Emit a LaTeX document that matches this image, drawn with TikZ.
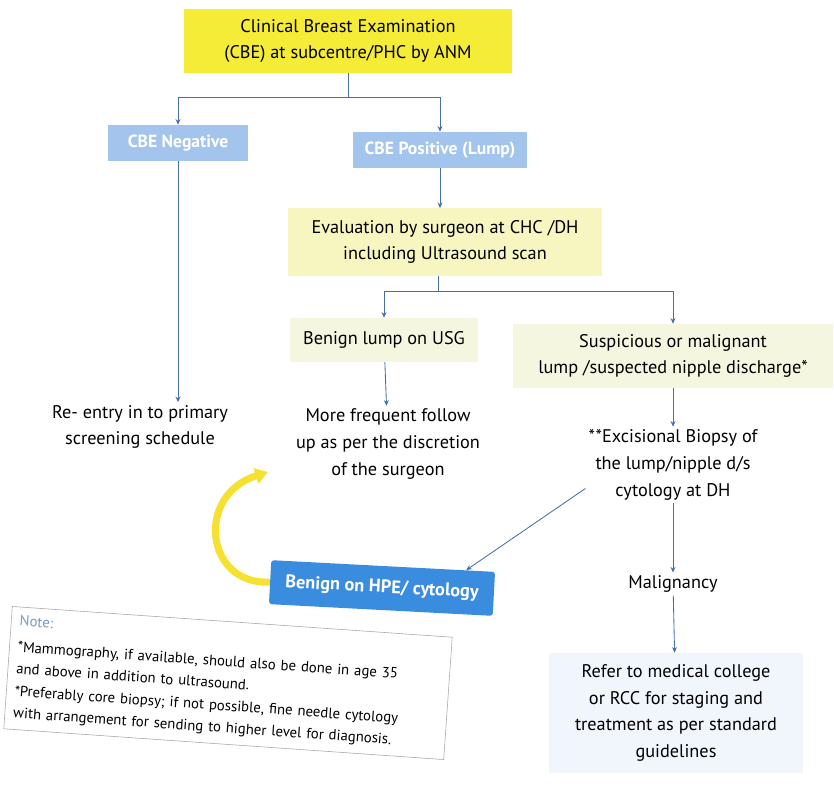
\documentclass[tikz,border=0pt]{standalone}
\usepackage{fontspec}
\setmainfont{PT Sans}
\usetikzlibrary{arrows.meta}

\definecolor{cbeyellow}{RGB}{245,236,55}
\definecolor{evalyellow}{RGB}{248,246,192}
\definecolor{paleyellow}{RGB}{245,246,224}
\definecolor{lightblue}{RGB}{163,196,236}
\definecolor{hpeblue}{RGB}{58,140,222}
\definecolor{lineblue}{RGB}{72,110,170}
\definecolor{referblue}{RGB}{241,245,252}
\definecolor{notegray}{RGB}{120,155,195}

\begin{document}
\begin{tikzpicture}[x=0.025cm,y=-0.025cm,
    every node/.style={align=center, font=\fontsize{13}{19}\selectfont},
    yellowbox/.style={rectangle, fill=cbeyellow, minimum width=8.2cm, minimum height=1.6cm},
    evalbox/.style={rectangle, fill=evalyellow, minimum width=7.85cm, minimum height=1.68cm},
    palebox/.style={rectangle, fill=paleyellow, minimum height=1.1cm},
    bluebox/.style={rectangle, fill=lightblue, text=white, minimum height=0.9cm,
        font=\fontsize{12.5}{15}\selectfont\bfseries},
    hpebox/.style={rectangle, fill=hpeblue, text=white, rounded corners=2pt,
        minimum width=5.6cm, minimum height=1.1cm, font=\fontsize{13}{15}\selectfont\bfseries},
    plain/.style={rectangle, inner sep=2pt},
    arr/.style={draw=lineblue, line width=0.6pt, -{Stealth[length=4pt,width=3.5pt]}},
    link/.style={draw=lineblue, line width=0.6pt}]

    \useasboundingbox (0,0) rectangle (834,788);

    % first level
    \node[yellowbox] (cbe) at (348,41) {Clinical Breast Examination\\(CBE) at subcentre/PHC by ANM};
    \node[bluebox, minimum width=3.5cm] (neg) at (178,143) {CBE Negative};
    \node[bluebox, minimum width=4.35cm] (pos) at (440,150) {CBE Positive (Lump)};
    \coordinate (split1) at (348,97);

    \draw[link] (cbe) -- (split1);
    \draw[arr]  (split1) -| (neg);
    \draw[arr]  (split1) -| (pos);

    % surgeon evaluation
    \node[evalbox] (eval) at (445,242) {Evaluation by surgeon at CHC /DH\\including Ultrasound scan};
    \draw[arr] (pos) -- (pos |- eval.north);
    \coordinate (split2) at (438,291);
    \draw[link] (eval.south -| split2) -- (split2);

    \node[palebox, minimum width=4.7cm] (benign) at (384,340) {Benign lump on USG};
    \node[palebox, minimum width=8cm, minimum height=1.6cm] (susp) at (673,356)
        {Suspicious or malignant\\lump /suspected nipple discharge*};
    \draw[arr] (split2) -| (benign);
    \draw[arr] (split2) -| (susp);

    % outcomes
    \node[plain] (reentry) at (140,427) {Re- entry in to primary\\screening schedule};
    \draw[arr] (neg) -- (neg |- reentry.north);

    \node[plain] (follow) at (388,444) {More frequent follow\\up as per the discretion\\of the surgeon};
    \draw[arr] (benign) -- (follow);

    \node[plain] (excis) at (673,465) {*\kern0.5pt*Excisional Biopsy of\\the lump/nipple d/s\\cytology at DH};
    \draw[arr] (susp) -- (excis);

    \node[plain] (malig) at (673,584) {Malignancy};
    \draw[arr] (excis) -- (malig);

    \node[rectangle, fill=referblue, minimum width=6.35cm, minimum height=3cm] (refer) at (676,713)
        {Refer to medical college\\or RCC for staging and\\treatment as per standard\\guidelines};
    \draw[arr] (malig) -- (refer);

    \node[hpebox, rotate=-3] (hpe) at (382,588) {Benign on HPE/ cytology};
    \draw[arr] (excis.195) -- (hpe.15);

    % loop back to follow up
    \coordinate (loopend) at (268,472);
    \draw[line width=5pt, draw=cbeyellow!90!orange, -{Triangle[length=9pt,width=11pt]}]
        (hpe.west) .. controls (205,585) and (195,495) .. (loopend);

    % footnote
    \node[rectangle, draw=gray!70, fill=white, rotate=-4, text width=10.6cm, align=left,
        inner sep=6pt, font=\fontsize{10.5}{15.5}\selectfont] (note) at (228,683)
        {{\color{notegray}Note:}\\[3pt]
         *Mammography, if available, should also be done in age 35\\
         and above in addition to ultrasound.\\
         *\kern0.5pt*Preferably core biopsy; if not possible, fine needle cytology\\
         with arrangement for sending to higher level for diagnosis.};
\end{tikzpicture}
\end{document}
